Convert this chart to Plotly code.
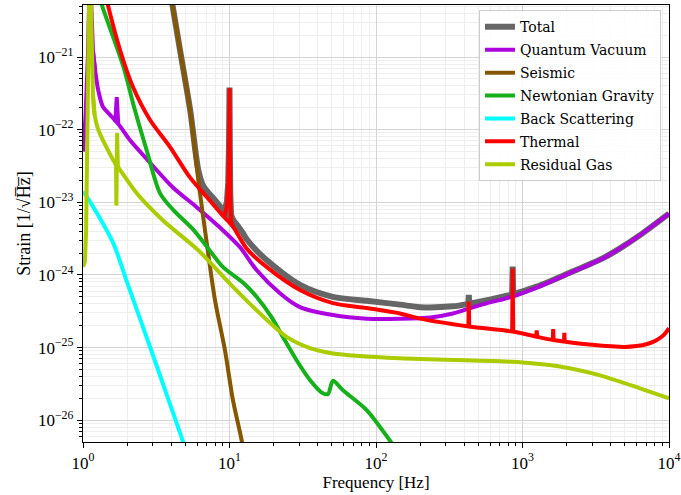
import plotly.graph_objects as go

# ---------------- data (frequency in Hz, strain in 1/sqrt(Hz)) ----------------
# smooth parts of each curve
total_f = [1.0, 2.0, 3.0, 3.5, 4.08, 4.59, 5.38, 6.13, 6.6, 7.1, 8.0, 8.85, 10.57, 12.3, 13.1, 17.9,
           30.3, 50.8, 86.6, 146, 200, 335, 430, 573, 857, 1250, 2100, 3550, 4600, 6300, 10000]
total_h = [1e-14, 1e-17, 2e-19, 3.3e-20, 5.2e-21, 1.26e-21, 1.9e-22, 2.75e-23, 1.7e-23, 1.39e-23,
           1.06e-23, 8.2e-24, 5.7e-24, 3.8e-24, 3.1e-24, 1.6e-24,
           7.3e-25, 5.0e-25, 4.4e-25, 3.9e-25, 3.6e-25, 3.7e-25, 4.0e-25, 4.5e-25, 5.4e-25, 6.9e-25,
           1.07e-24, 1.7e-24, 2.3e-24, 3.5e-24, 7.0e-24]
# narrow resonances (separate segments split by None)
total_spk_f = [8.85, 9.3, 9.6, 9.8, 9.92, 10.0, 10.05, 10.12, 10.25, 10.57, None,
               427, 430, 433, None, 850, 857, 864]
total_spk_h = [8.2e-24, 8.2e-24, 1.0e-23, 1.85e-23, 6e-23, 3.8e-22, 6e-23, 1.3e-23, 6.7e-24, 5.7e-24, None,
               4.0e-25, 5.3e-25, 4.0e-25, None, 5.4e-25, 1.3e-24, 5.4e-25]

quantum_f = [1.17, 1.21, 1.27, 1.37, 1.53, 1.8, 2.09, 2.87, 4.11, 6.0, 8.6, 11.8, 15.3, 22.1, 30.3,
             50.8, 86.6, 146, 235, 335, 573, 820, 1250, 2100, 3550, 4600, 6300, 10000]
quantum_h = [1.2e-21, 6.6e-22, 3.5e-22, 2.05e-22, 1.6e-22, 1.1e-22, 7.2e-23, 3.5e-23, 1.6e-23, 8.5e-24,
             4.5e-24, 2.4e-24, 1.17e-24, 5.6e-25, 3.6e-25, 2.8e-25, 2.5e-25, 2.5e-25, 2.6e-25, 2.95e-25,
             4.1e-25, 4.9e-25, 6.7e-25, 1.06e-24, 1.7e-24, 2.3e-24, 3.5e-24, 7.0e-24]
quantum_spk_f = [1.0, 1.04, 1.08, 1.1, 1.12, 1.14, 1.17, 1.21, None, 1.66, 1.70, 1.74]
quantum_spk_h = [5e-23, 1.5e-22, 1e-21, 5e-21, 3e-20, 5e-21, 1.2e-21, 6.6e-22, None, 1.28e-22, 2.8e-22, 1.22e-22]

seismic_f = [1.0, 2.0, 3.0, 3.5, 4.08, 4.59, 5.38, 6.13, 7.10, 7.96, 9.31, 10.55, 12.1, 15.0]
seismic_h = [1e-14, 1e-17, 2e-19, 3.3e-20, 5.2e-21, 1.25e-21, 1.86e-22, 2.0e-23, 2.2e-24, 4.5e-25,
             9.2e-26, 1.9e-26, 5.3e-27, 5e-28]

newtonian_f = [1.0, 1.2, 1.31, 1.885, 2.26, 2.72, 3.35, 4.14, 5.66, 7.17, 9.0, 12.4, 15.3, 19.4, 23.2,
               28.7, 35.5, 43.4, 47.0, 50.9, 59.2, 86.6, 124, 200]
newtonian_h = [1e-19, 1.2e-20, 6.1e-21, 7.4e-22, 1.86e-22, 5.2e-23, 1.34e-23, 7.8e-24, 4.2e-24, 2.3e-24,
               1.29e-24, 7.8e-25, 5.0e-25, 2.6e-25, 1.39e-25, 6.7e-26, 3.56e-26, 2.35e-26, 2.3e-26,
               3.5e-26, 2.6e-26, 1.37e-26, 5.3e-27, 1.4e-27]

scatter_f = [1.0, 1.07, 1.6, 2.0, 3.0, 4.8, 6.0]
scatter_h = [1.4e-23, 1.17e-23, 2.8e-24, 7.9e-25, 7.9e-26, 5.2e-27, 1.5e-27]

thermal_f = [1.0, 1.2, 1.45, 1.79, 2.19, 2.87, 3.92, 5.37, 7.0, 8.85, 10.57, 13.1, 17.9, 30.3, 50.8,
             86.6, 146, 200, 430, 857, 1250, 1620, 2260, 3000, 4000, 5000, 6000, 7000, 7780, 8500, 9300,
             10000]
thermal_h = [1e-19, 3.4e-20, 6.1e-21, 1.25e-21, 3.9e-22, 1.36e-22, 5.8e-23, 2.2e-23, 1.18e-23, 6.8e-24,
             4.6e-24, 2.3e-24, 1.29e-24, 6.2e-25, 4.1e-25, 3.5e-25, 2.95e-25, 2.5e-25, 1.95e-25, 1.66e-25,
             1.41e-25, 1.27e-25, 1.16e-25, 1.09e-25, 1.04e-25, 1.02e-25, 1.05e-25, 1.11e-25, 1.2e-25,
             1.32e-25, 1.52e-25, 1.85e-25]
thermal_spk_f = [8.85, 9.3, 9.6, 9.8, 9.92, 10.0, 10.05, 10.12, 10.25, 10.57, None,
                 427, 430, 433, None, 850, 857, 864, None, 1240, 1250, 1260, None,
                 1610, 1620, 1630, None, 1920, 1930, 1940, None, 2250, 2260, 2270]
thermal_spk_h = [6.8e-24, 6.8e-24, 9e-24, 1.8e-23, 6e-23, 3.7e-22, 6e-23, 1.2e-23, 5.5e-24, 4.6e-24, None,
                 1.95e-25, 4.3e-25, 1.95e-25, None, 1.66e-25, 1.23e-24, 1.66e-25, None,
                 1.41e-25, 1.72e-25, 1.41e-25, None, 1.27e-25, 1.8e-25, 1.27e-25, None,
                 1.21e-25, 1.6e-25, 1.21e-25, None, 1.16e-25, 1.22e-25, 1.16e-25]

gas_f = [1.17, 1.2, 1.27, 1.4, 1.61, 1.79, 2.32, 3.52, 6.1, 10.6, 18.0, 24.7, 35.5, 50.8, 146, 962,
         1800, 3380, 6340, 10000]
gas_h = [3e-22, 1.6e-22, 1.0e-22, 6.5e-23, 3.8e-23, 2.8e-23, 1.34e-23, 5.6e-24, 2.2e-24, 6.8e-25, 2.4e-25,
         1.39e-25, 9.8e-26, 8.3e-26, 7.1e-26, 6.3e-26, 5.5e-26, 4.15e-26, 2.75e-26, 2.0e-26]
gas_spk_f = [1.0, 1.03, 1.05, 1.065, 1.08, 1.1, 1.12, 1.14, 1.17, 1.2, None,
             1.64, 1.68, 1.69, 1.71, 1.73, 1.76]
gas_spk_h = [1.3e-24, 1.5e-24, 4e-24, 2e-23, 3.5e-22, 5e-21, 5e-20, 3e-21, 3e-22, 1.6e-22, None,
             3.5e-23, 3.3e-23, 9e-24, 9e-23, 3e-23, 2.9e-23]

series = [
    ("Total", total_f, total_h, total_spk_f, total_spk_h, "#666666", 6),
    ("Quantum Vacuum", quantum_f, quantum_h, quantum_spk_f, quantum_spk_h, "#ad03de", 4),
    ("Seismic", seismic_f, seismic_h, None, None, "#855700", 4),
    ("Newtonian Gravity", newtonian_f, newtonian_h, None, None, "#15b01a", 4),
    ("Back Scattering", scatter_f, scatter_h, None, None, "#00ffff", 4),
    ("Thermal", thermal_f, thermal_h, thermal_spk_f, thermal_spk_h, "#ff0000", 4),
    ("Residual Gas", gas_f, gas_h, gas_spk_f, gas_spk_h, "#aacc00", 4),
]

x_major = [1, 10, 100, 1000, 10000]
x_major_text = ["10<sup>0</sup>", "10<sup>1</sup>", "10<sup>2</sup>", "10<sup>3</sup>", "10<sup>4</sup>"]
y_major = [1e-26, 1e-25, 1e-24, 1e-23, 1e-22, 1e-21]
y_major_text = ["10<sup>\u221226</sup>", "10<sup>\u221225</sup>", "10<sup>\u221224</sup>",
                "10<sup>\u221223</sup>", "10<sup>\u221222</sup>", "10<sup>\u221221</sup>"]
x_minor = [k * 10 ** d for d in range(0, 4) for k in range(2, 10)]
y_minor = [k * 10.0 ** d for d in range(-27, -20) for k in range(2, 10)]

FONT = "Liberation Serif"
LEGEND_FONT = "DejaVu Serif"

fig = go.Figure()
for name, fx, hy, sfx, shy, color, lw in series:
    fig.add_trace(go.Scatter(x=fx, y=hy, mode="lines", name=name, legendgroup=name,
                             line=dict(color=color, width=lw, shape="spline", smoothing=0.8)))
    if sfx is not None:
        fig.add_trace(go.Scatter(x=sfx, y=shy, mode="lines", name=name, legendgroup=name,
                                 showlegend=False, connectgaps=False,
                                 line=dict(color=color, width=lw)))

axis_common = dict(
    type="log", showline=True, linecolor="black", linewidth=1.2, mirror=True,
    ticks="outside", ticklen=5, tickwidth=1, tickcolor="black", automargin=False,
    showgrid=True, gridcolor="#d4d4d4", gridwidth=1, zeroline=False,
    tickfont=dict(family=FONT, size=17, color="black"),
)

fig.update_layout(
    width=681, height=495,
    margin=dict(l=83, r=12, t=5, b=53),
    paper_bgcolor="white", plot_bgcolor="white",
    font=dict(family=FONT, size=15, color="black"),
    showlegend=True,
    legend=dict(x=0.9863, y=0.988, xanchor="right", yanchor="top", tracegroupgap=1.7,
                bgcolor="rgba(255,255,255,0.85)", bordercolor="#cccccc", borderwidth=1,
                font=dict(family=LEGEND_FONT, size=14)),
    xaxis=dict(axis_common, range=[0, 4], tickvals=x_major, ticktext=x_major_text,
               title=dict(text="Frequency [Hz]", font=dict(family=FONT, size=17), standoff=4),
               minor=dict(tickvals=x_minor, ticks="outside", ticklen=3, tickcolor="black",
                          showgrid=True, gridcolor="#eeeeee")),
    yaxis=dict(axis_common, range=[-26.30, -20.284], tickvals=y_major, ticktext=y_major_text,
               title=dict(text="Strain [1/\u221aH\u0305z\u0305]", font=dict(family=FONT, size=18), standoff=2),
               minor=dict(tickvals=y_minor, ticks="outside", ticklen=3, tickcolor="black",
                          showgrid=True, gridcolor="#eeeeee")),
)

fig.write_html("out.html", config={"displayModeBar": False},
               post_script="document.body.style.margin='0';")
